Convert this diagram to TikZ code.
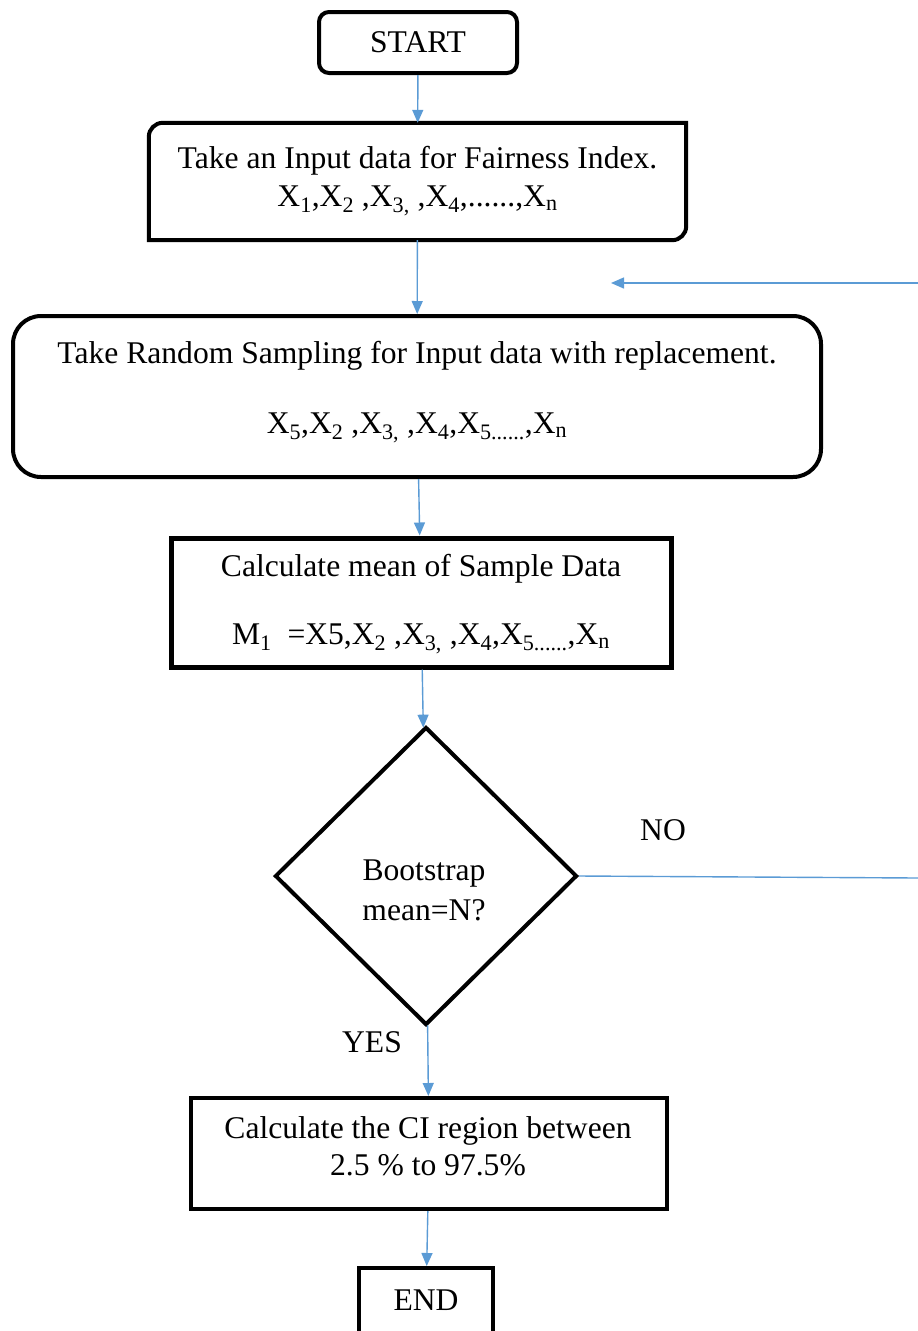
\documentclass[tikz,border=0pt]{standalone}
\usepackage{fontspec}
\setmainfont{Liberation Serif}
\usetikzlibrary{arrows.meta,shapes.geometric,calc}
\definecolor{flowblue}{RGB}{91,155,213}
\tikzset{
  boxline/.style={draw=black,line width=4pt},
  txt/.style={font=\fontsize{31.6}{40}\selectfont,align=center},
  procbox/.style={boxline,txt,rectangle,inner sep=0pt},
  flow/.style={draw=flowblue,line width=1.4pt,-{Triangle[length=13pt,width=11pt]}},
  plainflow/.style={draw=flowblue,line width=1.4pt},
}
\begin{document}
\begin{tikzpicture}[x=1pt,y=-1pt]
\useasboundingbox (0,0) rectangle (918,1331);
\clip (0,0) rectangle (918,1331);

% terminals and process steps
\node[procbox,rounded corners=10pt,minimum width=198pt,minimum height=61pt] (start) at (418,42.5)
  {\raisebox{-2pt}{START}};

\node[txt,minimum width=537pt,minimum height=117pt,inner sep=0pt] (input) at (417.5,181.5)
  {Take an Input data for Fairness Index.\\[-2pt]
   X\textsubscript{1},X\textsubscript{2} ,X\textsubscript{3,} ,X\textsubscript{4},......,X\textsubscript{n}};
% only the top-left and bottom-right corners are rounded
\draw[boxline,line join=miter] (input.north east)
  -- ($(input.south east)+(0,-14)$)
  .. controls ($(input.south east)+(0,-6.3)$) and ($(input.south east)+(-6.3,0)$) .. ($(input.south east)+(-14,0)$)
  -- (input.south west)
  -- ($(input.north west)+(0,14)$)
  .. controls ($(input.north west)+(0,6.3)$) and ($(input.north west)+(6.3,0)$) .. ($(input.north west)+(14,0)$)
  -- cycle;

\node[procbox,rounded corners=28pt,minimum width=808pt,minimum height=161pt] (sample) at (417,396.5) {};
\node[txt] (sampletext) at (417,392)
  {Take Random Sampling for Input data with replacement.\\[30pt]
   X\textsubscript{5},X\textsubscript{2} ,X\textsubscript{3,} ,X\textsubscript{4},X\textsubscript{5......},X\textsubscript{n}};

\node[procbox,line width=5pt,minimum width=500pt,minimum height=129pt] (mean) at (421,602.5) {};
\node[txt] (meantext) at (421,604)
  {Calculate mean of Sample Data\\[28pt]
   M\textsubscript{1}\ \ =X5,X\textsubscript{2} ,X\textsubscript{3,} ,X\textsubscript{4},X\textsubscript{5......},X\textsubscript{n}};

\node[boxline,diamond,inner sep=0pt,minimum width=302pt,minimum height=298pt] (check) at (426,876) {};
\node[txt] (checktext) at (424,890) {Bootstrap\\mean=N?};

\node[procbox,minimum width=476pt,minimum height=111pt] (ci) at (429,1153.5) {};
\node[txt] (citext) at (428,1146)
  {Calculate the CI region between\\[-3pt]2.5 \% to 97.5\%};

\node[procbox,minimum width=134pt,minimum height=66pt] (finish) at (426,1301)
  {\raisebox{2pt}{END}};

% branch labels
\node[txt] (nolabel) at (663,830) {NO};
\node[txt] (yeslabel) at (372,1042) {YES};

% connectors
\draw[flow] (start) -- (input);
\draw[flow] (input) -- (sample);
\draw[flow] (sample) -- (mean);
\draw[flow] (mean) -- (check);
\draw[flow] (check) -- (ci);
\draw[flow] (ci) -- (finish);

% return loop leaving the frame on the right
\coordinate (loopout) at (918,878);
\coordinate (loopin) at (918,283);
\coordinate (loopend) at (611,283);
\draw[plainflow] (check.east) -- (loopout);
\draw[flow] (loopin) -- (loopend);
\end{tikzpicture}
\end{document}
